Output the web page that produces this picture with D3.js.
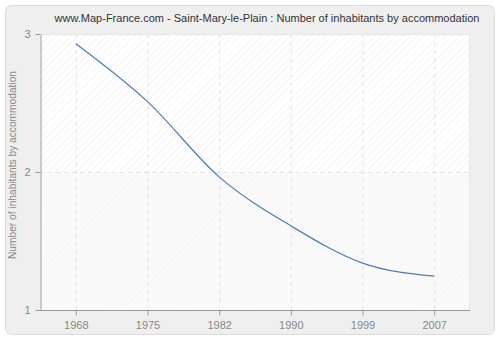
<!DOCTYPE html>
<html><head><meta charset="utf-8">
<script src="https://cdn.jsdelivr.net/npm/d3@7"></script>
<style>body{margin:0;background:#fff}svg{display:block}</style>
</head><body>
<svg id="c" width="500" height="340"></svg>
<script>
const years = ["1968","1975","1982","1990","1999","2007"];
const values = [2.93, 2.51, 1.965, 1.61, 1.34, 1.245];
const yTicks = [1, 2, 3];
const title = "www.Map-France.com - Saint-Mary-le-Plain : Number of inhabitants by accommodation";
const yLabel = "Number of inhabitants by accommodation";

const svg = d3.select("#c");
const font = "Liberation Sans, Arial, sans-serif";
const m = {l:40, r:470, t:34, b:310};

const defs = svg.append("defs");
const pat = defs.append("pattern").attr("id","hatch").attr("patternUnits","userSpaceOnUse")
  .attr("width",5).attr("height",5).attr("patternTransform","rotate(45)");
pat.append("rect").attr("width",5).attr("height",5).attr("fill","#ffffff");
pat.append("line").attr("x1",0).attr("y1",0).attr("x2",0).attr("y2",5).attr("stroke","#eaeaea").attr("stroke-width",1);
const pat2 = defs.append("pattern").attr("id","hatch2").attr("patternUnits","userSpaceOnUse")
  .attr("width",5).attr("height",5).attr("patternTransform","rotate(45)");
pat2.append("rect").attr("width",5).attr("height",5).attr("fill","#fafafa");
pat2.append("line").attr("x1",0).attr("y1",0).attr("x2",0).attr("y2",5).attr("stroke","#f2f2f2").attr("stroke-width",1);

svg.append("rect").attr("x",5.5).attr("y",5.5).attr("width",489).attr("height",329).attr("rx",6)
  .attr("fill","#efefef").attr("stroke","#dcdcdc");

const x = d3.scalePoint().domain(years).range([m.l, m.r]).padding(0.5);
const y = d3.scaleLinear().domain([1,3]).range([m.b, m.t]);

svg.append("rect").attr("x",m.l).attr("y",m.t).attr("width",m.r-m.l).attr("height",y(2)-m.t).attr("fill","url(#hatch)");
svg.append("rect").attr("x",m.l).attr("y",y(2)).attr("width",m.r-m.l).attr("height",m.b-y(2)).attr("fill","url(#hatch2)");

// grid
svg.append("g").selectAll("line").data(years).join("line")
  .attr("x1",d=>x(d)+0.5).attr("x2",d=>x(d)+0.5).attr("y1",m.t).attr("y2",m.b)
  .attr("stroke","#e2e2e2").attr("stroke-dasharray","4,4");
svg.append("g").selectAll("line").data(yTicks.filter(d=>d>1 && d<3)).join("line")
  .attr("x1",m.l).attr("x2",m.r).attr("y1",d=>y(d)+0.5).attr("y2",d=>y(d)+0.5)
  .attr("stroke","#e2e2e2").attr("stroke-dasharray","4,4");
svg.append("line").attr("x1",m.l).attr("x2",m.r).attr("y1",m.t+0.5).attr("y2",m.t+0.5).attr("stroke","#e6e6e6");
svg.append("line").attr("x1",m.r-0.5).attr("x2",m.r-0.5).attr("y1",m.t).attr("y2",m.b).attr("stroke","#e6e6e6");

// axes
const xa = svg.append("g").attr("transform",`translate(0,${m.b+0.5})`)
  .call(d3.axisBottom(x).tickSizeOuter(0).tickSizeInner(5).tickPadding(6));
const ya = svg.append("g").attr("transform",`translate(${m.l+0.5},0)`)
  .call(d3.axisLeft(y).tickValues(yTicks).tickFormat(d3.format("d")).tickSizeOuter(0).tickSizeInner(5).tickPadding(5));
[xa,ya].forEach(g=>{
  g.select(".domain").attr("stroke","#999");
  g.selectAll(".tick line").attr("stroke","#999");
  g.selectAll("text").attr("fill","#888").attr("font-family",font).attr("font-size",11);
});
xa.select(".domain").attr("d",`M${m.l},0H${m.r}`);

// line
svg.append("path").datum(values)
  .attr("d", d3.line().x((d,i)=>x(years[i])).y(d=>y(d)).curve(d3.curveMonotoneX))
  .attr("fill","none").attr("stroke","#4f7cb3").attr("stroke-width",1.2);

svg.append("text").attr("x",267).attr("y",22).attr("text-anchor","middle")
  .attr("font-family",font).attr("font-size",11).attr("fill","#333").text(title);
svg.append("text").attr("transform",`translate(16,165) rotate(-90)`).attr("text-anchor","middle")
  .attr("font-family",font).attr("font-size",10.2).attr("fill","#888").text(yLabel);
</script>
</body></html>
